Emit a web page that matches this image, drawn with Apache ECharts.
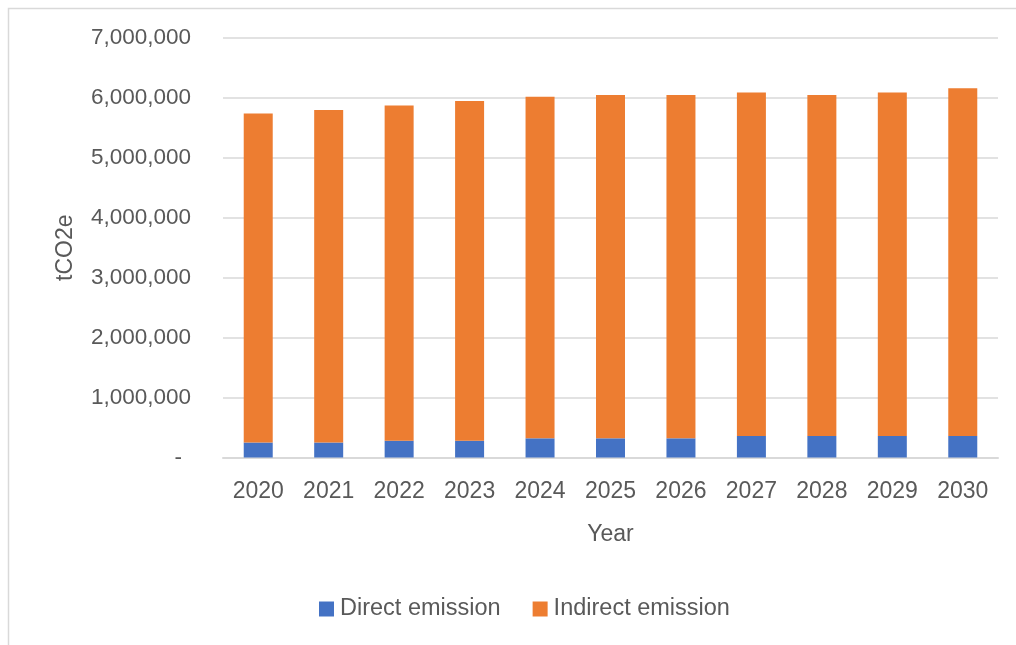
<!DOCTYPE html>
<html>
<head>
<meta charset="utf-8">
<script src="https://cdn.jsdelivr.net/npm/echarts@6/dist/echarts.min.js"></script>
<style>
  html, body { margin: 0; padding: 0; background: #ffffff; }
  #chart { width: 1016px; height: 645px; }
</style>
</head>
<body>
<div id="chart"></div>
<script>
// Emissions by year (tCO2e)
const years = ['2020', '2021', '2022', '2023', '2024', '2025', '2026', '2027', '2028', '2029', '2030'];
const directEmission = [250000, 250000, 280000, 280000, 320000, 320000, 320000, 360000, 360000, 360000, 360000];
const indirectEmission = [5490000, 5550000, 5595000, 5670000, 5700000, 5730000, 5730000, 5730000, 5690000, 5730000, 5800000];
const yTicks = [0, 1000000, 2000000, 3000000, 4000000, 5000000, 6000000, 7000000];

const textColor = '#595959';
const gridColor = '#d9d9d9';
const font = 'Liberation Sans, Arial, sans-serif';

const chart = echarts.init(document.getElementById('chart'), null, { renderer: 'canvas' });

chart.setOption({
  animation: false,
  backgroundColor: '#ffffff',
  textStyle: { fontFamily: font, color: textColor },
  graphic: [{
    type: 'rect',
    shape: { x: 8.5, y: 8.5, width: 1100, height: 1000 },
    style: { fill: 'none', stroke: gridColor, lineWidth: 1.5 },
    silent: true
  }],
  grid: { left: 223, right: 18, top: 38, bottom: 187.5, containLabel: false },
  legend: {
    left: 319,
    top: 597,
    padding: 0,
    icon: 'rect',
    itemWidth: 15,
    itemHeight: 15,
    itemGap: 32,
    textStyle: { fontFamily: font, fontSize: 23.5, color: textColor, padding: [0, 0, 0, 1] },
    data: ['Direct emission', 'Indirect emission']
  },
  xAxis: {
    type: 'category',
    data: years,
    name: 'Year',
    nameLocation: 'middle',
    nameGap: 66,
    nameTextStyle: { fontFamily: font, fontSize: 23, color: textColor },
    axisLine: { show: true, lineStyle: { color: gridColor, width: 2 } },
    axisTick: { show: false },
    axisLabel: { fontFamily: font, fontSize: 23, color: textColor, margin: 23 }
  },
  yAxis: {
    type: 'value',
    min: yTicks[0],
    max: yTicks[yTicks.length - 1],
    interval: yTicks[1] - yTicks[0],
    name: 'tCO2e',
    nameLocation: 'middle',
    nameGap: 146,
    nameRotate: 90,
    nameTextStyle: { fontFamily: font, fontSize: 23, color: textColor },
    axisLine: { show: false },
    axisTick: { show: false },
    splitLine: { lineStyle: { color: gridColor, width: 1.5 } },
    axisLabel: {
      fontFamily: font,
      fontSize: 22.5,
      color: textColor,
      margin: 32,
      formatter: v => v === 0 ? '{z|-}' : v.toLocaleString('en-US'),
      rich: {
        z: { fontFamily: font, fontSize: 22.5, color: textColor, padding: [0, 9, 0, 0] }
      }
    }
  },
  series: [
    {
      name: 'Direct emission',
      type: 'bar',
      stack: 'total',
      barWidth: 29,
      data: directEmission,
      itemStyle: { color: '#4472c4' }
    },
    {
      name: 'Indirect emission',
      type: 'bar',
      stack: 'total',
      barWidth: 29,
      data: indirectEmission,
      itemStyle: { color: '#ed7d31' }
    }
  ]
});
</script>
</body>
</html>
